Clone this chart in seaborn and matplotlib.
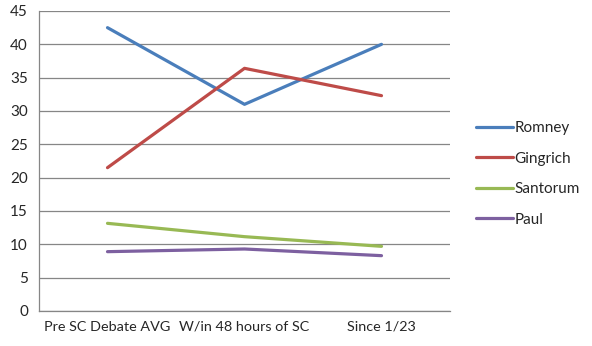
import matplotlib
matplotlib.use("Agg")
import matplotlib.pyplot as plt
import seaborn as sns
import pandas as pd
from matplotlib.ticker import FixedLocator, NullFormatter, FixedFormatter

categories = ["Pre SC Debate AVG", "W/in 48 hours of SC", "Since 1/23"]
romney = [42.5, 31.0, 40.0]
gingrich = [21.5, 36.4, 32.3]
santorum = [13.15, 11.15, 9.7]
paul = [8.9, 9.3, 8.3]
series_names = ["Romney", "Gingrich", "Santorum", "Paul"]
y_ticks = [0, 5, 10, 15, 20, 25, 30, 35, 40, 45]

colors = ["#4A7EBB", "#BE4B48", "#98B954", "#7D60A0"]

rows = []
for name, vals in zip(series_names, [romney, gingrich, santorum, paul]):
    for i, (c, v) in enumerate(zip(categories, vals)):
        rows.append({"pos": i, "category": c, "value": v, "series": name})
df = pd.DataFrame(rows)

sns.set_style("white")
plt.rcParams["font.family"] = ["Lato", "DejaVu Sans"]

fig = plt.figure(figsize=(5.92, 3.46), dpi=100)
W, H = 592, 346
ax = fig.add_axes([39 / W, (H - 311) / H, 411 / W, 300 / H])

sns.lineplot(data=df, x="pos", y="value", hue="series", hue_order=series_names,
             palette=colors, linewidth=2.3, ax=ax, legend=True)

ax.set_xlim(-0.5, 2.5)
ax.set_ylim(0, 45)
ax.set_yticks(y_ticks)
ax.set_yticklabels([str(t) for t in y_ticks], fontsize=11)
ax.yaxis.grid(True, color="#868686", linewidth=0.9)
ax.set_axisbelow(True)

ax.xaxis.set_major_locator(FixedLocator([-0.5, 0.5, 1.5, 2.5]))
ax.xaxis.set_major_formatter(NullFormatter())
ax.xaxis.set_minor_locator(FixedLocator([0, 1, 2]))
ax.xaxis.set_minor_formatter(FixedFormatter(categories))
ax.tick_params(axis="x", which="minor", length=0, labelsize=10.4, pad=7)
ax.tick_params(axis="x", which="major", length=5, color="#868686", direction="out")
ax.tick_params(axis="y", length=5, color="#868686", direction="out", pad=3)
ax.set_xlabel("")
ax.set_ylabel("")

for s in ["top", "right"]:
    ax.spines[s].set_visible(False)
for s in ["left", "bottom"]:
    ax.spines[s].set_color("#868686")
    ax.spines[s].set_linewidth(0.9)

handles, labels = ax.get_legend_handles_labels()
ax.legend(handles, labels, loc="upper left", bbox_to_anchor=(470 / W, 1 - 115 / H),
          bbox_transform=fig.transFigure, frameon=False, fontsize=11,
          handlelength=2.4, handletextpad=0.1, labelspacing=1.08, borderaxespad=0)

fig.savefig("out.png", dpi=100)
